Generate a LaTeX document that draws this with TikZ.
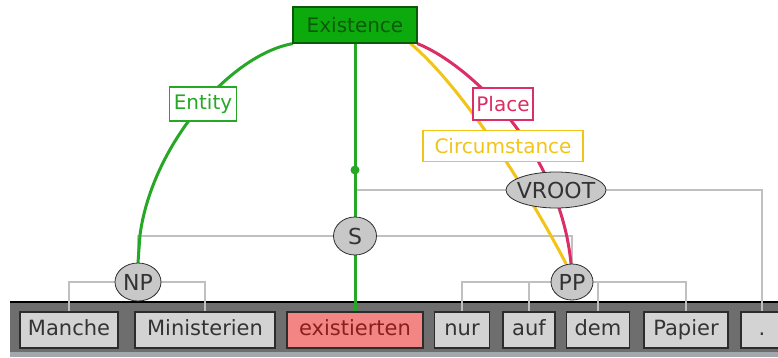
\documentclass[tikz,border=0pt]{standalone}
\usepackage{fontspec}
\setmainfont{DejaVu Sans}
\usetikzlibrary{shapes.geometric}

\definecolor{barGray}{HTML}{6E6E6E}
\definecolor{barLow}{HTML}{A3A8AD}
\definecolor{wordFill}{HTML}{D3D3D3}
\definecolor{wordLine}{HTML}{2C2C2C}
\definecolor{wordText}{HTML}{333333}
\definecolor{verbFill}{HTML}{F38585}
\definecolor{verbText}{HTML}{8A1F1F}
\definecolor{depGray}{HTML}{C0C0C0}
\definecolor{ellFill}{HTML}{C8C8C8}
\definecolor{frameGreen}{HTML}{0DAA0D}
\definecolor{frameDark}{HTML}{0B5A0B}
\definecolor{feGreen}{HTML}{26A826}
\definecolor{fePink}{HTML}{DC2E66}
\definecolor{feYellow}{HTML}{F2C417}

\pgfdeclarelayer{bar}
\pgfdeclarelayer{deps}
\pgfdeclarelayer{frames}
\pgfsetlayers{bar,deps,frames,main}

\tikzset{
  txt/.style={font=\fontsize{20}{24}\selectfont},
  word/.style={font=\fontsize{21}{25}\selectfont, draw=wordLine, line width=1.6pt,
    fill=wordFill, text=wordText, inner sep=0pt, minimum height=36pt,
    text height=15pt, text depth=4pt},
  verb/.style={word, fill=verbFill, text=verbText},
  ell/.style={ellipse, draw=wordLine, line width=0.8pt, fill=ellFill, inner sep=0pt},
  elltext/.style={font=\fontsize{22}{26}\selectfont, text=wordText, inner sep=0pt},
  dep/.style={draw=depGray, line width=2.8pt},
  felabel/.style={txt, fill=white, line width=1.2pt, inner sep=0pt},
  frameline/.style={line width=3pt, line cap=round},
}

\begin{document}
\begin{tikzpicture}[x=1pt,y=-1pt]
\useasboundingbox (0,0) rectangle (778,357);

% word strip at the bottom
\begin{pgfonlayer}{bar}
  \fill[barGray] (10,302) rectangle (778,352);
  \fill[barLow] (10,352) rectangle (778,357);
  \draw[black, line width=1.6pt] (10,302) -- (778,302);
\end{pgfonlayer}

% tokens
\node[word, minimum width=98pt]  (w1) at (69,330)  {Manche};
\node[word, minimum width=140pt] (w2) at (205,330) {Ministerien};
\node[verb, minimum width=136pt] (w3) at (355,330) {existierten};
\node[word, minimum width=55pt]  (w4) at (462,330) {nur};
\node[word, minimum width=52pt]  (w5) at (529,330) {auf};
\node[word, minimum width=63pt]  (w6) at (598,330) {dem};
\node[word, minimum width=84pt]  (w7) at (686,330) {Papier};
\node[word, minimum width=42pt]  (w8) at (762,330) {.};

% syntax nodes
\node[ell, minimum width=46pt, minimum height=38pt, label={[elltext]center:NP}] (np) at (138,282) {};
\node[ell, minimum width=42pt, minimum height=36pt, label={[elltext]center:PP}] (pp) at (572,282) {};
\node[ell, minimum width=43pt, minimum height=38pt, label={[elltext]center:S}] (s) at (355,236) {};
\node[ell, minimum width=100pt, minimum height=36pt, label={[elltext]center:VROOT}] (vroot) at (556,190) {};

% frame and frame elements
\node[txt, draw=frameDark, line width=1.4pt, fill=frameGreen, text=frameDark,
      inner sep=0pt, minimum width=124pt, minimum height=36pt] (exist) at (355,25) {Existence};
\node[felabel, draw=feGreen, text=feGreen, minimum width=67pt, minimum height=34pt] (entity) at (203,104) {Entity};
\node[felabel, draw=fePink, text=fePink, minimum width=60pt, minimum height=32pt] (place) at (503,104) {Place};
\node[felabel, draw=feYellow, text=feYellow, minimum width=160pt, minimum height=31pt] (circ) at (503,146) {Circumstance};

% dependency tree
\begin{pgfonlayer}{deps}
  \draw[dep] (w1.north) |- (np) -| (w2.north);
  \draw[dep] (w4.north) |- (pp) -| (w7.north);
  \draw[dep] (w5.north) -- (w5.north |- pp);
  \draw[dep] (w6.north) -- (w6.north |- pp);
  \draw[dep] (np.north) |- (s) -| (pp.north);
  \draw[dep] (s) -- (w3.north);
  \draw[dep] (s) |- (vroot) -| (w8.north);
\end{pgfonlayer}

% frame element links
\begin{pgfonlayer}{frames}
  \coordinate (fv) at (355,170);
  \draw[frameline, feGreen] (exist.south) -- (w3.north);
  \fill[feGreen] (fv) circle (4.5pt);
  \draw[frameline, feGreen] (exist.south west) .. controls (230,55) and (152,145) .. (140,235) -- (np.north);
  \draw[frameline, feYellow] ([xshift=-7pt]exist.south east) .. controls (460,85) and (525,185) .. ([xshift=-6pt]pp.north);
  \draw[frameline, fePink] (exist.south east) .. controls (470,65) and (560,150) .. ([xshift=-1pt]pp.north);
\end{pgfonlayer}
\end{tikzpicture}
\end{document}
